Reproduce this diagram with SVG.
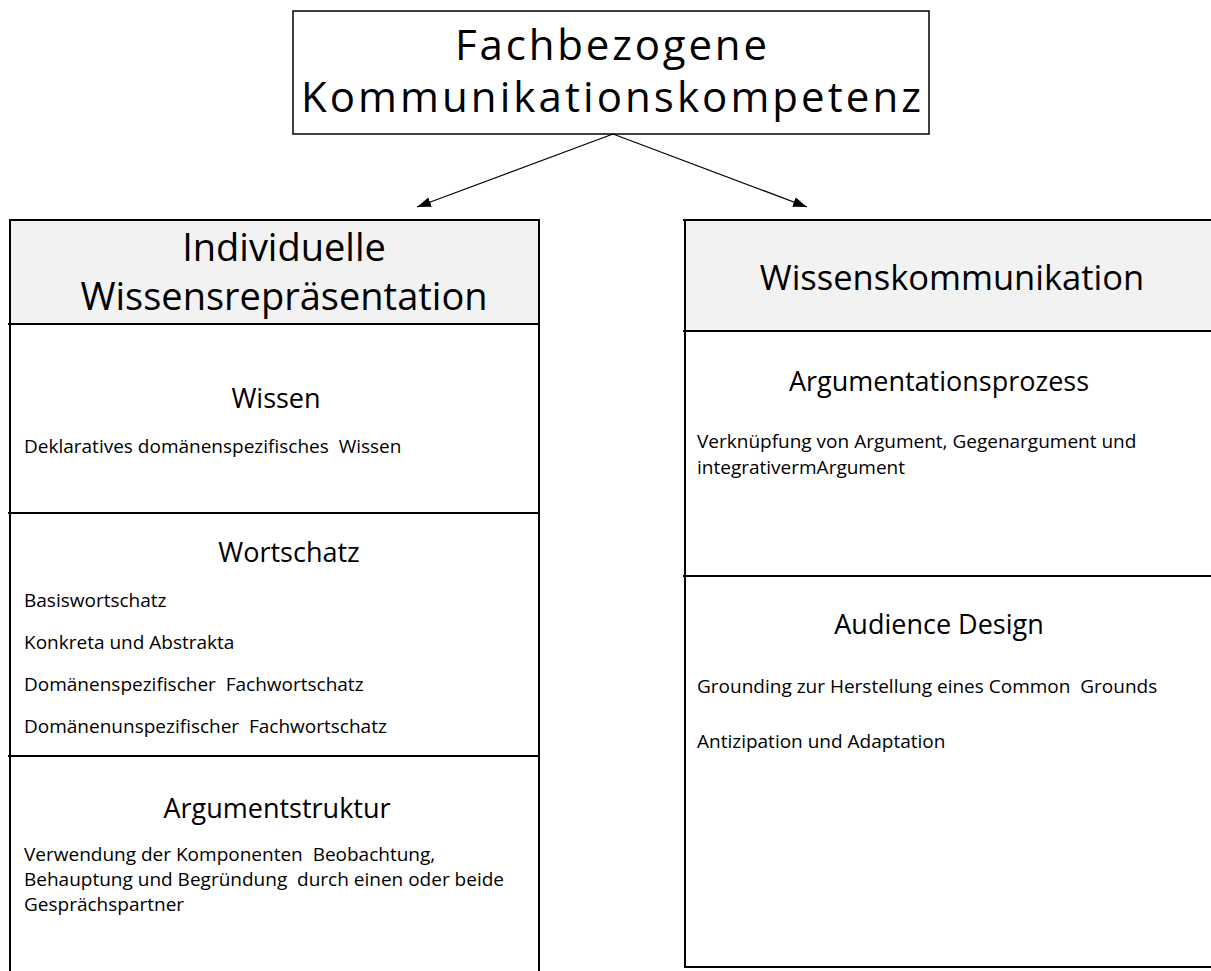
<svg xmlns="http://www.w3.org/2000/svg" width="1211" height="971" viewBox="0 0 1211 971" xml:space="preserve">
<style>
text{font-family:"Open Sans","Noto Sans","Liberation Sans",sans-serif;fill:#000;white-space:pre}
.t1{font-size:42px;text-anchor:middle}
.h{font-size:38px;text-anchor:middle}
.hr{font-size:34.5px;text-anchor:middle}
.s{font-size:27px;text-anchor:middle}
.b{font-size:19px}
.ln{stroke:#000;stroke-width:2;fill:none}
.hd{fill:#f2f2f2;stroke:none}
.cn{stroke:#000;stroke-width:1.3;fill:none}
</style>
<defs>
<marker id="ah" viewBox="0 0 14 10" refX="14" refY="5" markerWidth="14" markerHeight="10" markerUnits="userSpaceOnUse" orient="auto"><path d="M0,0 L14,5 L0,10 z" fill="#000"/></marker>
</defs>
<rect width="1211" height="971" fill="#fff"/>
<g id="top">
<rect x="293" y="11" width="636" height="123" fill="#fff" stroke="#000" stroke-width="1.5"/>
<text class="t1" x="611" y="60" textLength="312" lengthAdjust="spacing">Fachbezogene</text>
<text class="t1" x="611" y="112" textLength="620" lengthAdjust="spacing">Kommunikationskompetenz</text>
</g>
<g id="connectors">
<path class="cn" d="M613,134 L417,207" marker-end="url(#ah)"/>
<path class="cn" d="M613,134 L807,207" marker-end="url(#ah)"/>
</g>
<g id="left">
<rect class="hd" x="10" y="220" width="529" height="104"/>
<path class="ln" d="M10,220 H539 M10,219 V971 M539,219 V971 M8,324 H539 M8,513 H539 M8,756 H539"/>
<text class="h" x="284" y="261">Individuelle</text>
<text class="h" x="284" y="310">Wissensrepräsentation</text>
<text class="s" x="276" y="408">Wissen</text>
<text class="b" x="24" y="453">Deklaratives domänenspezifisches  Wissen</text>
<text class="s" x="289" y="562">Wortschatz</text>
<text class="b" x="24" y="607">Basiswortschatz</text>
<text class="b" x="24" y="649">Konkreta und Abstrakta</text>
<text class="b" x="24" y="691">Domänenspezifischer  Fachwortschatz</text>
<text class="b" x="24" y="733">Domänenunspezifischer  Fachwortschatz</text>
<text class="s" x="277" y="818">Argumentstruktur</text>
<text class="b" x="24" y="861">Verwendung der Komponenten  Beobachtung,</text>
<text class="b" x="24" y="886">Behauptung und Begründung  durch einen oder beide</text>
<text class="b" x="24" y="911">Gesprächspartner</text>
</g>
<g id="right">
<rect class="hd" x="685" y="220" width="526" height="111"/>
<path class="ln" d="M683,220 H1211 M685,219 V968 M683,331 H1211 M683,576 H1211 M685,967 H1211"/>
<text class="hr" x="952" y="290">Wissenskommunikation</text>
<text class="s" x="939" y="391">Argumentationsprozess</text>
<text class="b" x="697" y="448">Verknüpfung von Argument, Gegenargument und</text>
<text class="b" x="697" y="474">integrativermArgument</text>
<text class="s" x="939" y="634">Audience Design</text>
<text class="b" x="697" y="693">Grounding zur Herstellung eines Common  Grounds</text>
<text class="b" x="697" y="748">Antizipation und Adaptation</text>
</g>
</svg>
